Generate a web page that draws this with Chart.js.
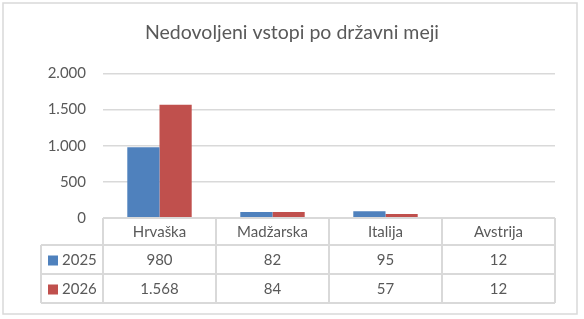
<!DOCTYPE html>
<html>
<head>
<meta charset="utf-8">
<script src="https://cdn.jsdelivr.net/npm/chart.js@4/dist/chart.umd.min.js"></script>
<style>
  html, body { margin: 0; padding: 0; background: #fff; }
  #wrap { width: 584px; height: 319px; position: relative; }
</style>
</head>
<body>
<div id="wrap"><canvas id="myChart"></canvas></div>
<script>
const categories = ['Hrvaška', 'Madžarska', 'Italija', 'Avstrija'];
const seriesNames = ['2025', '2026'];
const values2025 = [980, 82, 95, 12];
const values2026 = [1568, 84, 57, 12];
const seriesColors = ['#4f81bd', '#c0504d'];

const textColor = '#595959';
const lineColor = '#d9d9d9';
const fontFamily = 'Lato, "Open Sans", sans-serif';

// slovene style thousands: 1.568
function fmt(v) {
  return String(v).replace(/\B(?=(\d{3})+(?!\d))/g, '.');
}

// outer frame + white background
const frame = {
  id: 'frame',
  beforeDraw(chart) {
    const ctx = chart.ctx;
    ctx.save();
    ctx.fillStyle = '#fff';
    ctx.fillRect(0, 0, chart.width, chart.height);
    ctx.strokeStyle = lineColor;
    ctx.lineWidth = 1.5;
    ctx.strokeRect(3, 3, 574, 311);
    ctx.restore();
  }
};

// excel-like data table under the bars
const dataTable = {
  id: 'dataTable',
  afterDraw(chart) {
    const { ctx, chartArea } = chart;
    const x = chart.scales.x;
    const left = chartArea.left, right = chartArea.right, top = chartArea.bottom;
    const headerH = 27, rowH = 29, legendLeft = 41;
    const colW = (right - left) / categories.length;
    const bottom = top + headerH + rowH * seriesNames.length;

    function line(x1, y1, x2, y2) {
      ctx.beginPath();
      ctx.moveTo(x1, y1);
      ctx.lineTo(x2, y2);
      ctx.stroke();
    }

    ctx.save();
    ctx.strokeStyle = lineColor;
    ctx.lineWidth = 2;
    line(left, top, right, top);
    for (let r = 0; r <= seriesNames.length; r++) {
      const yy = top + headerH + r * rowH;
      line(legendLeft, yy, right, yy);
    }
    for (let i = 0; i <= categories.length; i++) {
      const xx = left + i * colW;
      line(xx, top, xx, bottom);
    }
    line(legendLeft, top + headerH, legendLeft, bottom);

    ctx.fillStyle = textColor;
    ctx.font = '15px ' + fontFamily;
    ctx.textAlign = 'center';
    ctx.textBaseline = 'middle';
    categories.forEach((c, i) => {
      ctx.fillText(c, x.getPixelForValue(i), top + headerH / 2 + 1);
    });

    const rows = [values2025, values2026];
    rows.forEach((vals, r) => {
      const cy = top + headerH + r * rowH + rowH / 2 + 1;
      ctx.textAlign = 'center';
      ctx.fillStyle = textColor;
      vals.forEach((v, i) => {
        ctx.fillText(fmt(v), x.getPixelForValue(i), cy);
      });
      ctx.fillStyle = seriesColors[r];
      ctx.fillRect(legendLeft + 7, cy - 5, 10, 10);
      ctx.fillStyle = textColor;
      ctx.textAlign = 'left';
      ctx.fillText(seriesNames[r], legendLeft + 21, cy);
    });
    ctx.restore();
  }
};

const data = {
  labels: categories,
  datasets: [
    {
      label: seriesNames[0],
      data: values2025,
      backgroundColor: seriesColors[0],
      categoryPercentage: 0.57,
      barPercentage: 1.0
    },
    {
      label: seriesNames[1],
      data: values2026,
      backgroundColor: seriesColors[1],
      categoryPercentage: 0.57,
      barPercentage: 1.0
    }
  ]
};

const config = {
  type: 'bar',
  data: data,
  options: {
    responsive: true,
    maintainAspectRatio: false,
    animation: false,
    layout: {
      padding: { left: 0, right: 0, top: 0, bottom: 101 }
    },
    plugins: {
      legend: { display: false },
      tooltip: { enabled: false },
      title: {
        display: true,
        text: 'Nedovoljeni vstopi po državni meji',
        color: textColor,
        font: { family: fontFamily, size: 19.5, weight: 'normal' },
        padding: { top: 21, bottom: 29 }
      }
    },
    scales: {
      x: {
        display: false
      },
      y: {
        min: 0,
        max: 2000,
        afterFit(scale) { scale.width = 103; },
        border: { display: false },
        grid: { color: lineColor, lineWidth: 1.5, drawTicks: false },
        ticks: {
          stepSize: 500,
          padding: 17,
          color: textColor,
          font: { family: fontFamily, size: 15 },
          callback: v => fmt(v)
        }
      },
      // empty right gutter so the title stays centred on the whole frame
      gutter: {
        position: 'right',
        min: 0,
        max: 2000,
        afterFit(scale) { scale.width = 29; },
        border: { display: false },
        grid: { display: false },
        ticks: { display: false }
      }
    }
  },
  plugins: [frame, dataTable]
};

new Chart(document.getElementById('myChart'), config);
</script>
</body>
</html>
